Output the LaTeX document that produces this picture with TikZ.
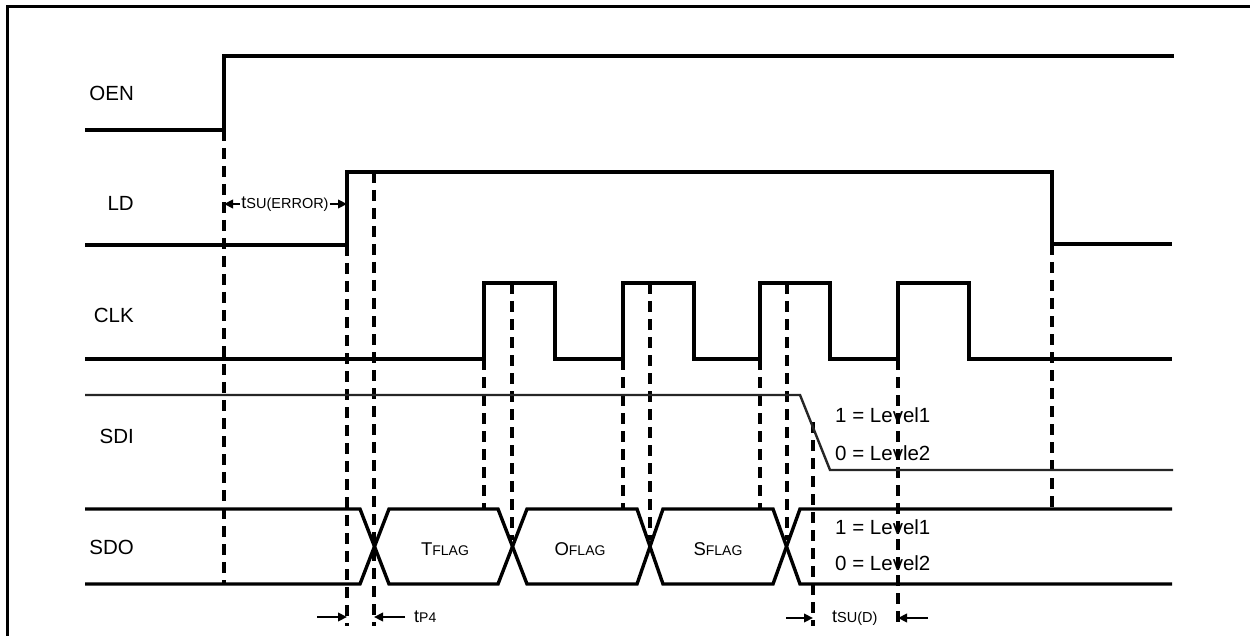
\documentclass[tikz,border=0pt]{standalone}
\usepackage{fontspec}
\setmainfont{Liberation Sans}
\usetikzlibrary{arrows.meta}
\begin{document}
\begin{tikzpicture}[x=1pt,y=-1pt,
  sig/.style={line width=3.4pt, line join=miter},
  thinsig/.style={line width=2.4pt, draw=black!85},
  guide/.style={line width=3.2pt, dash pattern=on 11pt off 7pt},
  lbl/.style={font=\fontsize{20.5}{24}\selectfont, inner sep=0pt, anchor=east},
  lvl/.style={font=\fontsize{20.5}{24}\selectfont, inner sep=0pt, anchor=west},
  flag/.style={font=\fontsize{18.5}{22}\selectfont, inner sep=0pt},
  meas/.style={font=\fontsize{18}{22}\selectfont, inner sep=0pt},
  marrow/.style={line width=2.4pt, -{Triangle[length=9pt,width=8.5pt]}},
]
\useasboundingbox (0,0) rectangle (1250,636);
% frame
\draw[line width=3pt] (7,636) -- (7,7) -- (1250,7);

% guide coordinates
\coordinate (g1t) at (224,130);  \coordinate (g1b) at (224,583);
\coordinate (g2t) at (347,245);  \coordinate (g2b) at (347,626);
\coordinate (g3t) at (374,172);  \coordinate (g3b) at (374,626);
\coordinate (g4t) at (484,359);  \coordinate (g4b) at (484,509);
\coordinate (g5t) at (512,283);  \coordinate (g5b) at (512,540);
\coordinate (g6t) at (623,359);  \coordinate (g6b) at (623,509);
\coordinate (g7t) at (650,283);  \coordinate (g7b) at (650,540);
\coordinate (g8t) at (760,359);  \coordinate (g8b) at (760,509);
\coordinate (g9t) at (787,283);  \coordinate (g9b) at (787,540);
\coordinate (g10t) at (813,422); \coordinate (g10b) at (813,626);
\coordinate (g11t) at (898,359); \coordinate (g11b) at (898,626);
\coordinate (g12t) at (1052,244); \coordinate (g12b) at (1052,507);

\foreach \i in {1,...,12} \draw[guide] (g\i t) -- (g\i b);

% signal labels
\node[lbl] (oen) at (134,93) {OEN};
\node[lbl] (ld)  at (134,203) {LD};
\node[lbl] (clk) at (134,315) {CLK};
\node[lbl] (sdi) at (134,436) {SDI};
\node[lbl] (sdo) at (134,547) {SDO};

% OEN
\draw[sig] (85,130) -- (224,130) -- (224,56) -- (1174,56);
% LD
\draw[sig] (85,245) -- (347,245) -- (347,172) -- (1052,172) -- (1052,244) -- (1172,244);
% CLK
\draw[sig] (85,359) -- (484,359) -- (484,283) -- (555,283) -- (555,359)
  -- (623,359) -- (623,283) -- (694,283) -- (694,359)
  -- (760,359) -- (760,283) -- (830,283) -- (830,359)
  -- (898,359) -- (898,283) -- (969,283) -- (969,359) -- (1172,359);
% SDI
\draw[thinsig] (85,395) -- (800,395) -- (830,470) -- (1173,470);
% SDO
\draw[sig] (85,509) -- (360,509) -- (389,584) -- (498,584) -- (527,509) -- (637,509)
  -- (663,584) -- (773,584) -- (800,509) -- (1172,509);
\draw[sig] (85,584) -- (360,584) -- (389,509) -- (498,509) -- (527,584) -- (637,584)
  -- (663,509) -- (773,509) -- (800,584) -- (1172,584);

% flags
\node[flag] (tflag) at (445,549) {T{\fontsize{14}{16}\selectfont FLAG}};
\node[flag] (oflag) at (580,549) {O{\fontsize{14}{16}\selectfont FLAG}};
\node[flag] (sflag) at (718,549) {S{\fontsize{14}{16}\selectfont FLAG}};

% level labels
\node[lvl] (sdi1) at (835,415) {1 = Level1};
\node[lvl] (sdi0) at (835,453) {0 = Levle2};
\node[lvl] (sdo1) at (835,527) {1 = Level1};
\node[lvl] (sdo0) at (835,563) {0 = Level2};

% tSU(ERROR)
\node[meas] (tsue) at (285,204) {t{\fontsize{14.5}{16}\selectfont SU(ERROR)}};
\coordinate (tsuL) at (224,204);
\coordinate (tsuR) at (347,204);
\draw[marrow] (tsue.west) ++(-1,0) -- (tsuL);
\draw[marrow] (tsue.east) ++(1,0) -- (tsuR);

% tP4
\coordinate (p4a) at (317,617);
\coordinate (p4b) at (347,617);
\coordinate (p4c) at (405,617);
\coordinate (p4d) at (374,617);
\draw[marrow] (p4a) -- (p4b);
\draw[marrow] (p4c) -- (p4d);
\node[meas, anchor=west] (tp4) at (414,617) {t{\fontsize{14}{16}\selectfont P4}};

% tSU(D)
\coordinate (sda) at (786,618);
\coordinate (sdb) at (813,618);
\coordinate (sdc) at (928,618);
\coordinate (sdd) at (898,618);
\draw[marrow] (sda) -- (sdb);
\draw[marrow] (sdc) -- (sdd);
\node[meas, anchor=west] (tsud) at (832,618) {t{\fontsize{14.5}{16}\selectfont SU(D)}};
\end{tikzpicture}
\end{document}
